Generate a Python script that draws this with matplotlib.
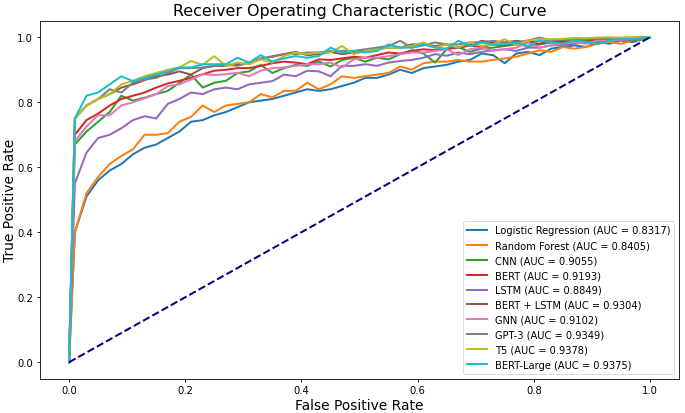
import matplotlib
matplotlib.use("Agg")
import matplotlib.pyplot as plt

fpr = [0.0, 0.01, 0.03, 0.05, 0.07, 0.09, 0.11, 0.13, 0.15, 0.17, 0.19,
       0.21, 0.23, 0.25, 0.27, 0.29, 0.31, 0.33, 0.35, 0.37, 0.39,
       0.41, 0.43, 0.45, 0.47, 0.49, 0.51, 0.53, 0.55, 0.57, 0.59,
       0.61, 0.63, 0.65, 0.67, 0.69, 0.71, 0.73, 0.75, 0.77, 0.79,
       0.81, 0.83, 0.85, 0.87, 0.89, 0.91, 0.93, 0.95, 0.97, 0.99, 1.0]

tpr_lr = [0.0, 0.40, 0.51, 0.56, 0.59, 0.61, 0.64, 0.66, 0.67, 0.69, 0.71,
          0.74, 0.745, 0.76, 0.77, 0.785, 0.80, 0.805, 0.81, 0.82, 0.83,
          0.84, 0.835, 0.84, 0.85, 0.86, 0.875, 0.875, 0.885, 0.90, 0.89,
          0.905, 0.91, 0.915, 0.925, 0.93, 0.95, 0.945, 0.92, 0.95, 0.955,
          0.945, 0.965, 0.97, 0.975, 0.97, 0.985, 0.98, 0.99, 0.985, 0.995, 1.0]
tpr_rf = [0.0, 0.40, 0.52, 0.57, 0.61, 0.635, 0.655, 0.70, 0.70, 0.705, 0.74,
          0.755, 0.79, 0.77, 0.79, 0.795, 0.80, 0.825, 0.815, 0.835, 0.835,
          0.86, 0.84, 0.855, 0.88, 0.875, 0.88, 0.885, 0.89, 0.91, 0.90,
          0.92, 0.925, 0.925, 0.93, 0.925, 0.925, 0.93, 0.935, 0.94, 0.95,
          0.96, 0.955, 0.97, 0.965, 0.97, 0.98, 0.985, 0.98, 0.99, 0.995, 1.0]
tpr_cnn = [0.0, 0.67, 0.71, 0.74, 0.77, 0.82, 0.805, 0.814, 0.825, 0.835, 0.86,
           0.885, 0.845, 0.86, 0.866, 0.89, 0.895, 0.915, 0.89, 0.905, 0.915,
           0.912, 0.925, 0.91, 0.93, 0.937, 0.925, 0.937, 0.932, 0.948, 0.96,
           0.95, 0.922, 0.963, 0.97, 0.955, 0.965, 0.968, 0.973, 0.978, 0.973,
           0.978, 0.984, 0.98, 0.985, 0.99, 0.985, 0.99, 0.995, 0.99, 0.998, 1.0]
tpr_bert = [0.0, 0.70, 0.745, 0.765, 0.79, 0.81, 0.82, 0.83, 0.845, 0.858, 0.866,
            0.875, 0.886, 0.897, 0.90, 0.905, 0.905, 0.912, 0.92, 0.925, 0.922,
            0.917, 0.932, 0.93, 0.935, 0.94, 0.937, 0.945, 0.953, 0.95, 0.958,
            0.963, 0.96, 0.965, 0.968, 0.975, 0.97, 0.978, 0.975, 0.984, 0.984,
            0.98, 0.99, 0.985, 0.99, 0.985, 0.992, 0.99, 0.995, 0.993, 0.998, 1.0]
tpr_lstm = [0.0, 0.55, 0.645, 0.69, 0.70, 0.72, 0.745, 0.757, 0.75, 0.795, 0.81,
            0.83, 0.825, 0.84, 0.845, 0.84, 0.855, 0.86, 0.865, 0.885, 0.88,
            0.897, 0.895, 0.88, 0.912, 0.912, 0.917, 0.912, 0.922, 0.927, 0.93,
            0.937, 0.948, 0.943, 0.953, 0.948, 0.955, 0.96, 0.963, 0.958, 0.968,
            0.968, 0.975, 0.975, 0.98, 0.985, 0.98, 0.99, 0.99, 0.995, 0.998, 1.0]
tpr_bert_lstm = [0.0, 0.75, 0.79, 0.81, 0.825, 0.845, 0.855, 0.868, 0.88, 0.885, 0.895,
                 0.885, 0.905, 0.912, 0.912, 0.917, 0.92, 0.935, 0.94, 0.948, 0.955,
                 0.945, 0.948, 0.955, 0.948, 0.953, 0.958, 0.963, 0.968, 0.968, 0.978,
                 0.978, 0.973, 0.978, 0.968, 0.975, 0.989, 0.984, 0.984, 0.989, 0.984,
                 0.989, 0.99, 0.992, 0.99, 0.995, 0.993, 0.997, 0.995, 0.998, 1.0, 1.0]
tpr_gnn = [0.0, 0.68, 0.725, 0.76, 0.76, 0.79, 0.80, 0.812, 0.825, 0.85, 0.855,
           0.87, 0.886, 0.884, 0.886, 0.891, 0.88, 0.897, 0.905, 0.907, 0.912,
           0.917, 0.917, 0.922, 0.907, 0.932, 0.937, 0.937, 0.942, 0.948, 0.953,
           0.953, 0.958, 0.963, 0.945, 0.963, 0.968, 0.958, 0.963, 0.968, 0.984,
           0.968, 0.975, 0.98, 0.985, 0.98, 0.99, 0.988, 0.993, 0.995, 0.998, 1.0]
tpr_gpt3 = [0.0, 0.75, 0.79, 0.81, 0.84, 0.83, 0.86, 0.87, 0.875, 0.89, 0.905,
            0.905, 0.907, 0.912, 0.917, 0.912, 0.922, 0.932, 0.942, 0.948, 0.948,
            0.953, 0.953, 0.958, 0.958, 0.958, 0.963, 0.968, 0.973, 0.989, 0.968,
            0.975, 0.984, 0.978, 0.978, 0.984, 0.984, 0.989, 0.984, 0.984, 0.99,
            0.999, 0.99, 0.993, 0.99, 0.995, 0.997, 0.995, 0.998, 0.998, 1.0, 1.0]
tpr_t5 = [0.0, 0.75, 0.79, 0.81, 0.825, 0.855, 0.866, 0.88, 0.89, 0.90, 0.907,
          0.927, 0.915, 0.942, 0.912, 0.922, 0.917, 0.932, 0.922, 0.942, 0.953,
          0.948, 0.953, 0.953, 0.973, 0.948, 0.958, 0.963, 0.968, 0.968, 0.973,
          0.984, 0.968, 0.978, 0.968, 0.984, 0.973, 0.978, 0.994, 0.975, 0.99,
          0.994, 0.994, 0.995, 0.998, 0.997, 0.999, 1.0, 0.999, 1.0, 1.0, 1.0]
tpr_bert_large = [0.0, 0.75, 0.82, 0.83, 0.855, 0.88, 0.865, 0.875, 0.885, 0.895, 0.907,
                  0.907, 0.917, 0.917, 0.917, 0.937, 0.922, 0.945, 0.925, 0.935, 0.942,
                  0.937, 0.942, 0.968, 0.953, 0.958, 0.953, 0.958, 0.978, 0.968, 0.968,
                  0.978, 0.968, 0.965, 0.989, 0.973, 0.984, 0.978, 0.978, 0.984, 0.973,
                  0.99, 0.984, 0.98, 0.99, 0.985, 0.98, 0.99, 0.995, 0.993, 0.998, 1.0]

model_names = ["Logistic Regression", "Random Forest", "CNN", "BERT", "LSTM",
               "BERT + LSTM", "GNN", "GPT-3", "T5", "BERT-Large"]
auc_values = [0.8317, 0.8405, 0.9055, 0.9193, 0.8849,
              0.9304, 0.9102, 0.9349, 0.9378, 0.9375]
tpr_series = [tpr_lr, tpr_rf, tpr_cnn, tpr_bert, tpr_lstm,
              tpr_bert_lstm, tpr_gnn, tpr_gpt3, tpr_t5, tpr_bert_large]

fig = plt.figure(figsize=(6.85, 4.14), dpi=100)
ax = fig.add_axes([40/685, 1 - 379.5/414, 639/685, 357.5/414])

for name, auc, tpr in zip(model_names, auc_values, tpr_series):
    ax.plot(fpr, tpr, lw=1.44, label=f"{name} (AUC = {auc:.4f})")

ax.plot([0, 1], [0, 1], color="navy", lw=1.44, linestyle="--")

ax.set_title("Receiver Operating Characteristic (ROC) Curve", fontsize=11.4, pad=4.5)
ax.set_xlabel("False Positive Rate", fontsize=9.9)
ax.set_ylabel("True Positive Rate", fontsize=9.9)
ax.yaxis.set_label_coords(-0.036, 0.5)
ax.xaxis.set_label_coords(0.5, -0.055)
ax.tick_params(labelsize=7.2, length=2.5, width=0.6, pad=2.5)
for s in ax.spines.values():
    s.set_linewidth(0.6)
leg = ax.legend(loc="lower right", fontsize=7.1)
leg.get_frame().set_linewidth(0.6)

fig.savefig("out.png", dpi=100)
